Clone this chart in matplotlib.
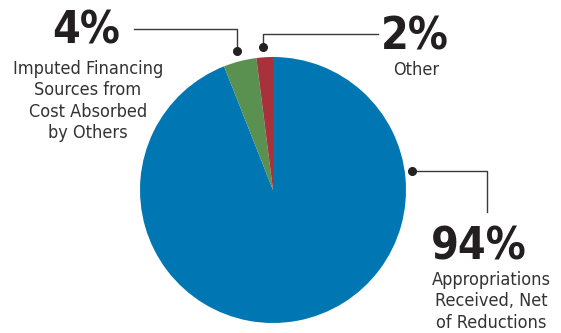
import matplotlib
matplotlib.use("Agg")
import matplotlib.pyplot as plt

categories = ["Appropriations\nReceived, Net\nof Reductions",
              "Imputed Financing\nSources from\nCost Absorbed\nby Others",
              "Other"]
values = [94, 4, 2]
pct_labels = ["94%", "4%", "2%"]
colors = ["#0077B3", "#5A9150", "#A8323B"]

W, H = 561, 333
fig = plt.figure(figsize=(W/100, H/100), dpi=100)
ax = fig.add_axes([0, 0, 1, 1])

def Y(y):
    return H - y

ax.pie(values, colors=colors, startangle=90, counterclock=False,
       center=(273, Y(190)), radius=133,
       wedgeprops=dict(linewidth=0))
ax.set_xlim(0, W)
ax.set_ylim(0, H)
ax.set_aspect('equal')
ax.axis('off')

fam = 'DejaVu Sans'
lc = '#3a3a3a'
ax.plot([134, 237, 237], [Y(29), Y(29), Y(50)], color=lc, lw=1.0)
ax.plot([237], [Y(51)], 'o', color='#222222', ms=5.5)
ax.plot([263, 263, 378], [Y(47), Y(34), Y(34)], color=lc, lw=1.0)
ax.plot([263], [Y(47)], 'o', color='#222222', ms=5.5)
ax.plot([412, 487, 487], [Y(171), Y(171), Y(212)], color=lc, lw=1.0)
ax.plot([412], [Y(171)], 'o', color='#222222', ms=5.5)

big = dict(fontsize=32, fontweight='bold', color='#231f20', family=fam,
           fontstretch='condensed', ha='center', va='center')
small = dict(fontsize=13, color='#333333', family=fam, fontstretch='condensed',
             ha='center', va='top', linespacing=1.24)

ax.text(86, Y(31), pct_labels[1], **big)
ax.text(88, Y(60), categories[1], **small)
ax.text(415, Y(37), pct_labels[2], **big)
ax.text(416, Y(61), categories[2], **small)
ax.text(479, Y(247), pct_labels[0], **big)
ax.text(491, Y(271), categories[0], **small)

fig.savefig("out.png", dpi=100)
